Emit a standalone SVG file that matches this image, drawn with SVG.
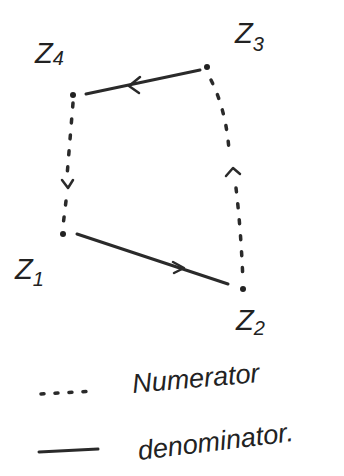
<svg xmlns="http://www.w3.org/2000/svg" width="344" height="476" viewBox="0 0 344 476">
<style>
.lbl{font-family:"Liberation Sans","DejaVu Sans",sans-serif;fill:#222;}
.z{font-size:29px;font-style:italic;}
.sub{font-size:20px;}
.leg{font-size:27px;font-style:italic;}
.solid{stroke:#2a2a2a;stroke-width:3;fill:none;stroke-linecap:round;}
.dot{stroke:#2a2a2a;stroke-width:3.5;fill:none;stroke-linecap:round;stroke-dasharray:4 12;}
.head{stroke:#2a2a2a;stroke-width:2.5;fill:none;stroke-linecap:round;stroke-linejoin:round;}
.pt{fill:#222;}
</style>
<rect width="344" height="476" fill="#fff"/>
<g id="connectors">
  <path class="solid" d="M200,70 L86,94"/>
  <path class="head" d="M140,77 L129,86 L139,93"/>
  <path class="solid" d="M77,234 L228,284"/>
  <path class="head" d="M173,262 L184,268 L174,273"/>
  <path class="dot" d="M73,103 L67,176"/>
  <path class="head" d="M62,180 L68,188 L73,180"/>
  <path class="dot" d="M66,201 L63,226"/>
  <path class="dot" d="M211,80 Q226,110 229,150"/>
  <path class="head" d="M226,176 L233,168 L240,174"/>
  <path class="dot" d="M236,188 Q241,230 243,282"/>
</g>
<g id="z4"><circle class="pt" cx="73" cy="95" r="3"/><text class="lbl z" x="35" y="63">Z<tspan class="sub" dy="2">4</tspan></text></g>
<g id="z3"><circle class="pt" cx="207" cy="67" r="3"/><text class="lbl z" x="235" y="43">Z<tspan class="sub" dy="8">3</tspan></text></g>
<g id="z1"><circle class="pt" cx="63" cy="234" r="3"/><text class="lbl z" x="15" y="279">Z<tspan class="sub" dy="7">1</tspan></text></g>
<g id="z2"><circle class="pt" cx="243" cy="289" r="3"/><text class="lbl z" x="236" y="330">Z<tspan class="sub" dy="5">2</tspan></text></g>
<g id="legend">
  <path class="dot" d="M41,394 L95,391" style="stroke-dasharray:3 11"/>
  <text class="lbl leg" x="133" y="393" transform="rotate(-5 133 393)">Numerator</text>
  <path class="solid" d="M39,452 L98,449"/>
  <text class="lbl leg" x="139" y="460" transform="rotate(-7 139 460)">denominator.</text>
</g>
</svg>
